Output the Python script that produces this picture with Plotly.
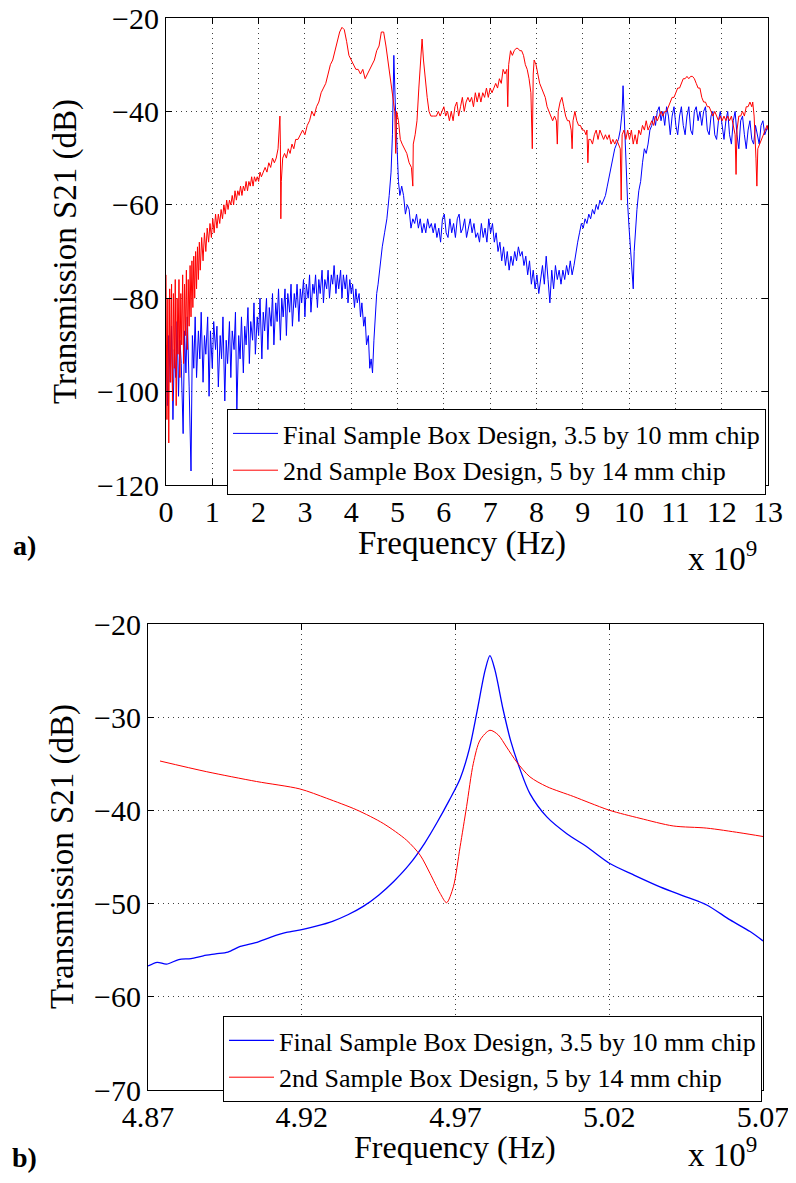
import plotly.graph_objects as go

# ---------------- data (frequency in GHz, S21 in dB) ----------------
top_blue_f = [
    0.00,0.03,0.06,0.09,0.12,0.15,0.18,0.21,0.24,0.27,
    0.30,0.33,0.37,0.40,0.43,0.46,0.50,0.54,0.57,0.60,
    0.63,0.66,0.70,0.73,0.76,0.80,0.83,0.86,0.90,0.93,
    0.96,1.00,1.03,1.07,1.10,1.13,1.17,1.20,1.23,1.27,
    1.30,1.33,1.37,1.40,1.43,1.47,1.50,1.53,1.57,1.60,
    1.63,1.67,1.70,1.73,1.77,1.80,1.83,1.87,1.90,1.93,
    1.97,2.00,2.03,2.07,2.10,2.13,2.17,2.20,2.23,2.27,
    2.30,2.33,2.37,2.40,2.43,2.47,2.50,2.53,2.57,2.60,
    2.63,2.67,2.70,2.73,2.77,2.80,2.83,2.87,2.90,2.93,
    2.97,3.00,3.03,3.07,3.10,3.13,3.17,3.20,3.23,3.27,
    3.30,3.33,3.37,3.40,3.43,3.47,3.50,3.53,3.57,3.60,
    3.63,3.67,3.70,3.73,3.77,3.80,3.83,3.87,3.90,3.93,
    3.97,4.00,4.03,4.07,4.10,4.13,4.17,4.20,4.23,4.27,
    4.30,4.33,4.37,4.40,4.43,4.46,4.49,4.52,4.55,4.58,
    4.62,4.67,4.72,4.77,4.82,4.86,4.89,4.92,4.95,4.98,
    5.02,5.05,5.09,5.13,5.17,5.21,5.25,5.29,5.33,5.37,
    5.41,5.45,5.49,5.53,5.57,5.61,5.65,5.69,5.73,5.77,
    5.81,5.85,5.89,5.93,5.97,6.01,6.05,6.09,6.13,6.17,
    6.21,6.25,6.29,6.33,6.37,6.41,6.45,6.49,6.53,6.57,
    6.61,6.65,6.69,6.73,6.77,6.81,6.85,6.89,6.93,6.97,
    7.01,7.05,7.09,7.13,7.17,7.21,7.25,7.29,7.33,7.37,
    7.41,7.45,7.49,7.53,7.57,7.61,7.65,7.69,7.73,7.77,
    7.81,7.85,7.89,7.93,7.97,8.01,8.05,8.09,8.13,8.17,
    8.21,8.25,8.29,8.33,8.37,8.41,8.45,8.49,8.53,8.57,
    8.61,8.65,8.69,8.73,8.77,8.81,8.85,8.89,8.93,8.97,
    9.01,9.05,9.09,9.13,9.17,9.21,9.25,9.29,9.33,9.37,
    9.41,9.45,9.49,9.53,9.57,9.61,9.65,9.69,9.73,9.77,
    9.81,9.85,9.87,9.89,9.91,9.94,9.97,10.00,10.03,10.06,
    10.09,10.11,10.13,10.17,10.21,10.25,10.29,10.33,10.37,10.41,
    10.45,10.49,10.53,10.57,10.61,10.65,10.69,10.73,10.77,10.81,
    10.85,10.89,10.93,10.97,11.01,11.05,11.09,11.13,11.17,11.21,
    11.25,11.29,11.33,11.37,11.41,11.45,11.49,11.53,11.57,11.61,
    11.65,11.69,11.73,11.77,11.81,11.85,11.89,11.93,11.97,12.01,
    12.05,12.09,12.13,12.17,12.21,12.25,12.29,12.33,12.37,12.41,
    12.45,12.49,12.53,12.57,12.61,12.65,12.69,12.73,12.77,12.81,
    12.85,12.89,12.93,12.97,13.00,
]
top_blue_s21 = [
    -90,-103,-88,-98,-86,-106,-91,-97,-85,-101,
    -89,-94,-109,-87,-96,-84,-99,-117,-88,-95,
    -84,-97,-87,-93,-83,-98,-88,-92,-84,-101,
    -87,-95,-85,-91,-86,-99,-88,-93,-84,-102,
    -89,-94,-85,-97,-87,-91,-83,-104,-88,-93,
    -84,-96,-86,-90,-82,-94,-85,-89,-81,-92,
    -84,-88,-80,-93,-83,-87,-80,-91,-82,-86,
    -79,-90,-81,-85,-78,-89,-80,-84,-78,-88,
    -79,-83,-77,-86,-79,-82,-77,-85,-78,-81,
    -76,-84,-77,-80,-75,-83,-77,-79,-75,-82,
    -76,-79,-74,-81,-76,-78,-74,-80,-75,-77,
    -73,-79,-75,-78,-74,-80,-75,-78,-75,-81,
    -76,-79,-77,-82,-78,-81,-79,-84,-81,-86,
    -84,-90,-88,-95,-93,-96,-89,-83,-79,-77,
    -73,-69,-66,-63,-58,-53,-45,-28,-38,-47,
    -55,-58,-56,-58,-62,-60,-61,-65,-63,-64,
    -62,-65,-63,-66,-64,-66,-63,-65,-64,-66,
    -64,-67,-65,-68,-63,-62,-66,-67,-63,-66,
    -64,-67,-63,-62,-66,-65,-63,-67,-65,-63,
    -66,-64,-67,-66,-68,-64,-67,-65,-68,-63,
    -66,-64,-68,-66,-70,-68,-72,-69,-73,-70,
    -74,-71,-73,-70,-72,-69,-71,-70,-73,-71,
    -75,-72,-77,-74,-78,-75,-79,-76,-73,-77,
    -71,-76,-81,-74,-78,-73,-76,-74,-77,-74,
    -76,-73,-75,-72,-75,-73,-70,-68,-66,-64,
    -65,-63,-64,-62,-63,-61,-62,-60,-61,-59,
    -60,-59,-58,-56,-54,-52,-50,-48,-47,-46,
    -44,-40,-34.5,-40,-47,-55,-60,-65,-70,-74,
    -78,-70,-66,-61,-57,-55,-51,-48,-49,-47,
    -44,-43,-41,-43,-40,-39,-42,-40,-43,-39,
    -41,-45,-41,-39,-43,-45,-41,-39,-43,-45,
    -41,-39,-44,-45,-40,-39,-42,-40,-43,-40,
    -39,-44,-45,-41,-40,-45,-46,-42,-40,-43,
    -46,-42,-40,-45,-47,-42,-40,-45,-48,-42,
    -41,-45,-48,-44,-42,-46,-47,-43,-45,-47,
    -43,-42,-45,-44,-43,
]

top_red_f = [
    0.00,0.02,0.04,0.06,0.08,0.10,0.12,0.14,0.16,0.18,
    0.20,0.22,0.24,0.26,0.28,0.30,0.32,0.34,0.36,0.38,
    0.40,0.42,0.44,0.46,0.48,0.50,0.52,0.54,0.56,0.58,
    0.60,0.62,0.64,0.66,0.68,0.70,0.72,0.74,0.77,0.80,
    0.83,0.86,0.89,0.92,0.95,0.98,1.01,1.04,1.07,1.10,
    1.13,1.16,1.19,1.22,1.25,1.28,1.31,1.34,1.37,1.40,
    1.43,1.46,1.49,1.52,1.55,1.58,1.61,1.64,1.67,1.70,
    1.73,1.76,1.79,1.82,1.85,1.88,1.91,1.94,1.97,2.00,
    2.03,2.06,2.10,2.14,2.18,2.22,2.26,2.30,2.34,2.38,
    2.42,2.45,2.46,2.47,2.48,2.49,2.52,2.56,2.60,2.64,
    2.68,2.72,2.76,2.80,2.85,2.90,2.95,3.00,3.05,3.10,
    3.15,3.20,3.25,3.30,3.35,3.40,3.45,3.50,3.55,3.60,
    3.65,3.70,3.75,3.80,3.85,3.90,3.95,4.00,4.05,4.10,
    4.15,4.20,4.25,4.30,4.35,4.40,4.45,4.50,4.55,4.60,
    4.65,4.70,4.75,4.80,4.85,4.90,4.94,4.96,4.98,5.02,
    5.06,5.10,5.15,5.20,5.25,5.30,5.33,5.34,5.38,5.42,
    5.46,5.50,5.53,5.56,5.60,5.64,5.68,5.72,5.78,5.84,
    5.88,5.92,5.96,6.00,6.04,6.08,6.12,6.16,6.20,6.24,
    6.28,6.32,6.36,6.40,6.44,6.48,6.52,6.56,6.60,6.64,
    6.68,6.72,6.76,6.80,6.84,6.88,6.92,6.96,7.00,7.04,
    7.08,7.12,7.16,7.20,7.24,7.28,7.32,7.36,7.38,7.40,
    7.44,7.48,7.52,7.56,7.60,7.64,7.68,7.72,7.76,7.80,
    7.84,7.88,7.91,7.93,7.95,7.99,8.03,8.07,8.11,8.15,
    8.19,8.23,8.27,8.31,8.35,8.39,8.43,8.45,8.47,8.51,
    8.55,8.59,8.63,8.67,8.71,8.75,8.77,8.79,8.83,8.87,
    8.91,8.95,8.99,9.03,9.07,9.09,9.11,9.13,9.17,9.21,
    9.25,9.29,9.33,9.37,9.41,9.45,9.49,9.53,9.57,9.61,
    9.65,9.69,9.73,9.77,9.81,9.83,9.85,9.89,9.93,9.97,
    10.01,10.05,10.09,10.13,10.17,10.21,10.25,10.29,10.33,10.37,
    10.41,10.45,10.49,10.53,10.57,10.61,10.65,10.69,10.73,10.77,
    10.81,10.85,10.89,10.93,10.97,11.01,11.05,11.09,11.13,11.17,
    11.21,11.25,11.29,11.33,11.37,11.41,11.45,11.49,11.53,11.57,
    11.61,11.65,11.69,11.73,11.77,11.81,11.85,11.89,11.93,11.97,
    12.01,12.05,12.09,12.13,12.17,12.21,12.25,12.29,12.31,12.33,
    12.37,12.41,12.45,12.49,12.53,12.57,12.61,12.65,12.67,12.70,
    12.74,12.76,12.78,12.82,12.86,12.90,12.94,12.98,13.00,
]
top_red_s21 = [
    -75,-106,-80,-111,-78,-98,-77,-102,-79,-95,
    -76,-103,-80,-92,-76,-97,-79,-90,-75,-94,
    -77,-88,-74,-91,-76,-86,-73,-84,-72,-82,
    -71,-80,-70,-78,-69,-76,-68,-74,-67,-72,
    -66,-70,-65,-68,-64,-67,-63,-66,-62,-65,
    -62,-64,-61,-63,-60,-62,-59,-61,-59,-60,
    -58,-60,-57,-59,-57,-58,-56,-58,-56,-57,
    -55,-57,-55,-56,-54,-56,-54,-55,-54,-55,
    -53,-54,-53,-52,-53,-51,-52,-50,-51,-50,
    -48,-44,-41,-47,-63,-55,-50,-49,-50,-48,
    -49,-47,-48,-46,-46,-45,-44,-45,-43,-42,
    -40,-41,-39,-38,-36,-35,-34,-32,-30,-29,
    -27,-25,-23,-22,-22.5,-25,-28,-29,-30,-31,
    -31,-32,-31,-33,-32,-31,-30,-29,-27,-26,
    -23,-23,-26,-30,-33,-37,-40,-49,-40,-42,
    -46,-47,-48,-49,-51,-52,-56,-47,-45,-42,
    -35,-29,-24.5,-29,-34,-37,-40,-41,-41,-41,
    -40,-41,-40,-39,-41,-40,-42,-40,-42,-39,
    -38,-41,-39,-37,-40,-38,-37,-38,-37,-39,
    -36,-38,-36,-38,-36,-37,-35,-37,-35,-36,
    -35,-34,-35,-33,-34,-31,-32,-31,-39,-30,
    -27,-28,-27,-26.5,-26.5,-27,-27,-28,-30,-31,
    -33,-36,-48,-32,-29,-30,-32,-34,-35,-36,
    -37,-39,-40,-41,-42,-41,-42,-47,-40,-38,
    -37,-39,-41,-42,-42,-44,-48,-42,-40,-42,
    -43,-43,-44,-44,-45,-44,-51,-46,-46,-47,
    -45,-44,-46,-44,-45,-46,-45,-46,-45,-47,
    -46,-47,-46,-47,-48,-59,-45,-44,-46,-44,
    -46,-44,-47,-45,-47,-44,-45,-43,-44,-42,
    -44,-43,-42,-43,-41,-42,-41,-40,-41,-40,
    -40,-39,-38,-37,-37,-36,-35,-35,-34,-33,
    -33,-32.5,-33,-32.5,-32.5,-33,-34,-35,-35,-37,
    -38,-38,-39,-39,-40,-41,-40,-41,-42,-41,
    -42,-41,-42,-41,-42,-41,-43,-45,-53.5,-44,
    -41,-41,-40,-41,-39,-39,-38,-39,-38,-41,
    -50,-56,-48,-47,-46,-45,-44,-43,-44,
]

bot_blue_f = [4.870, 4.873, 4.876, 4.880, 4.884, 4.888, 4.892, 4.896, 4.900, 4.905,
              4.910, 4.915, 4.920, 4.925, 4.930, 4.935, 4.940, 4.945, 4.950, 4.955,
              4.960, 4.964, 4.968, 4.9715, 4.9745, 4.9770, 4.9796, 4.9812, 4.9828, 4.9855,
              4.9880, 4.9910, 4.9942, 4.9997, 5.0062, 5.0127, 5.0202, 5.0278, 5.0365, 5.0452,
              5.0517, 5.0593, 5.0658, 5.0700]
bot_blue_s21 = [-56.7, -56.3, -56.5, -56.0, -55.9, -55.6, -55.4, -55.2, -54.6, -54.2,
                -53.6, -53.1, -52.8, -52.4, -51.9, -51.2, -50.3, -49.1, -47.6, -45.8,
                -43.5, -41.3, -38.9, -36.6, -33.4, -29.4, -25.0, -23.4, -24.9, -29.2,
                -32.6, -35.6, -38.2, -40.7, -42.5, -43.9, -45.7, -46.9, -48.2, -49.3,
                -50.15, -51.75, -53.0, -54.0]

bot_red_f = [4.8739, 4.8891, 4.9053, 4.9194, 4.9281, 4.9379, 4.9465, 4.9541, 4.9585, 4.9617,
             4.9650, 4.9671, 4.9693, 4.9715, 4.9736, 4.9758, 4.9780, 4.9812, 4.9839, 4.9866,
             4.9899, 4.9942, 4.9997, 5.0083, 5.0137, 5.0202, 5.0300, 5.0408, 5.0517, 5.0625,
             5.0700]
bot_red_s21 = [-34.7, -35.85, -36.9, -37.7, -38.7, -39.95, -41.4, -43.2, -44.8, -46.75,
               -48.9, -49.9, -48.2, -43.9, -39.6, -34.95, -32.45, -31.4, -31.9, -33.2,
               -34.8, -36.4, -37.45, -38.5, -39.2, -40.0, -40.85, -41.67, -41.9, -42.4,
               -42.8]

top_xticks = list(range(0, 14))
top_yticks = [-120, -100, -80, -60, -40, -20]
bot_xticks = [4.87, 4.92, 4.97, 5.02, 5.07]
bot_yticks = [-70, -60, -50, -40, -30, -20]

name_final = "Final Sample Box Design, 3.5 by 10 mm chip"
name_second = "2nd Sample Box Design, 5 by 14 mm chip"

assert len(top_blue_f) == len(top_blue_s21)
assert len(top_red_f) == len(top_red_s21)
assert len(bot_blue_f) == len(bot_blue_s21)
assert len(bot_red_f) == len(bot_red_s21)

# ---------------- layout helpers ----------------
# the page body has an 8px margin, so the figure is 16px smaller than the window
OFF = 8
W, H = 796 - 2 * OFF, 1183 - 2 * OFF
FONT = "Liberation Serif, Times New Roman, serif"


def px(x):
    return (x - OFF) / W


def py(y):
    return 1 - (y - OFF) / H


def fmt(v):
    s = f"{v:g}" if isinstance(v, float) else str(v)
    return s.replace("-", "\u2212")


fig = go.Figure()
fig.add_trace(go.Scatter(x=top_blue_f, y=top_blue_s21, mode="lines", name=name_final,
                         line=dict(color="#0000ff", width=1), xaxis="x", yaxis="y", legend="legend"))
fig.add_trace(go.Scatter(x=top_red_f, y=top_red_s21, mode="lines", name=name_second,
                         line=dict(color="#ff0000", width=1), xaxis="x", yaxis="y", legend="legend"))
fig.add_trace(go.Scatter(x=bot_blue_f, y=bot_blue_s21, mode="lines", name=name_final,
                         line=dict(color="#0000ff", width=1.3, shape="spline", smoothing=0.8),
                         xaxis="x2", yaxis="y2", legend="legend2"))
fig.add_trace(go.Scatter(x=bot_red_f, y=bot_red_s21, mode="lines", name=name_second,
                         line=dict(color="#ff0000", width=1, shape="spline", smoothing=0.8),
                         xaxis="x2", yaxis="y2", legend="legend2"))

axis_common = dict(showline=True, linecolor="black", linewidth=1, mirror="ticks",
                   ticks="inside", ticklen=6, tickcolor="black", automargin=False,
                   ticklabeloverflow="allow",
                   showgrid=True, gridcolor="rgba(0,0,0,0.75)", griddash="1px,4px", gridwidth=1,
                   zeroline=False, tickfont=dict(family=FONT, size=30, color="black"))

legend_common = dict(bgcolor="white", bordercolor="black", borderwidth=1,
                     font=dict(family=FONT, size=26, color="black"),
                     xanchor="right", yanchor="top", tracegroupgap=0, itemwidth=45)

fig.update_layout(
    width=W, height=H, autosize=False,
    margin=dict(l=0, r=0, t=0, b=0, autoexpand=False),
    paper_bgcolor="white", plot_bgcolor="white",
    showlegend=True,
    xaxis=dict(axis_common, domain=[px(166), px(768)], range=[0, 13], anchor="y",
               tickvals=top_xticks, ticktext=[fmt(v) for v in top_xticks]),
    yaxis=dict(axis_common, domain=[py(485), py(18)], range=[-120, -20], anchor="x",
               tickvals=top_yticks, ticktext=[fmt(v) for v in top_yticks]),
    xaxis2=dict(axis_common, domain=[px(148), px(763)], range=[4.87, 5.07], anchor="y2",
                tickvals=bot_xticks, ticktext=[f"{v:.2f}" for v in bot_xticks]),
    yaxis2=dict(axis_common, domain=[py(1090), py(624)], range=[-70, -20], anchor="x2",
                tickvals=bot_yticks, ticktext=[fmt(v) for v in bot_yticks]),
    legend=dict(legend_common, x=px(766), y=py(409)),
    legend2=dict(legend_common, x=px(762), y=py(1016)),
)

ann_font = dict(family=FONT, size=33, color="black")
annotations = [
    dict(text="Transmission S21 (dB)", x=px(65), y=py(252), textangle=-90),
    dict(text="Frequency (Hz)", x=px(462), y=py(544)),
    dict(text="x 10<sup>9</sup>", x=px(722), y=py(556)),
    dict(text="<b>a)</b>", x=px(24), y=py(545), size=28),
    dict(text="Transmission S21 (dB)", x=px(62), y=py(857), textangle=-90),
    dict(text="Frequency (Hz)", x=px(455), y=py(1147), size=32),
    dict(text="x 10<sup>9</sup>", x=px(722), y=py(1152)),
    dict(text="<b>b)</b>", x=px(24), y=py(1157), size=28),
]
for a in annotations:
    size = a.pop("size", 33)
    fig.add_annotation(xref="paper", yref="paper", showarrow=False,
                       xanchor="center", yanchor="middle",
                       font=dict(ann_font, size=size), **a)

fig.write_html("out.html")
